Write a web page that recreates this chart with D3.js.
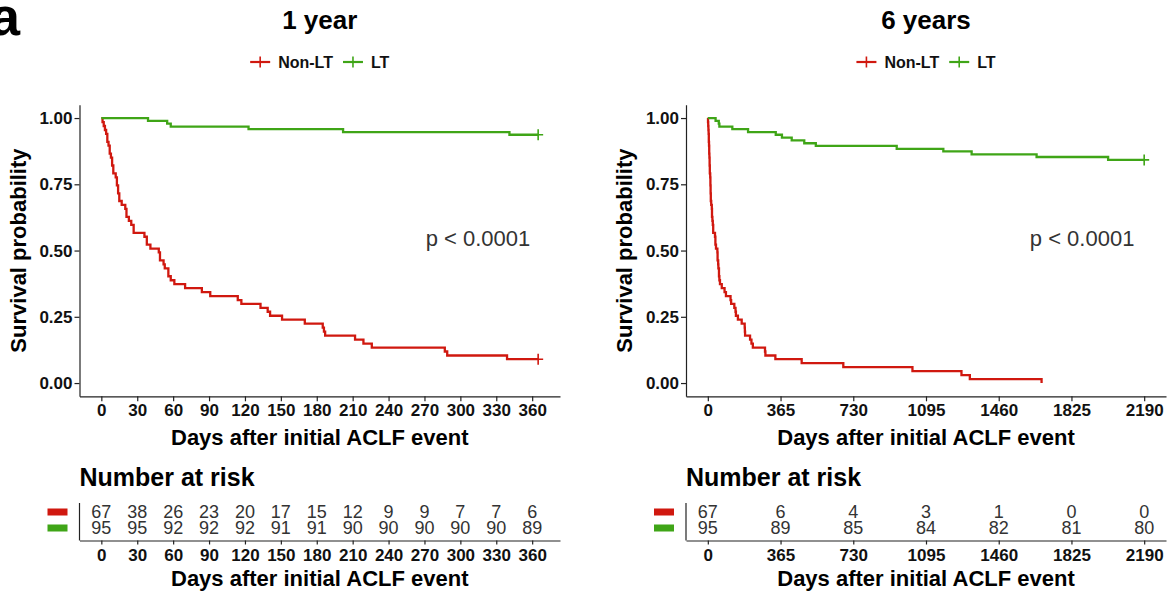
<!DOCTYPE html>
<html>
<head>
<meta charset="utf-8">
<script src="https://cdn.jsdelivr.net/npm/d3@7"></script>
<style>
  body { margin: 0; background: #fff; }
  svg { display: block; }
</style>
</head>
<body>
<svg id="fig" width="1170" height="593"></svg>
<script>
// ---- Kaplan–Meier estimates: day of each death and survival just after it ----
const groupNames = ["Non-LT", "LT"];
const groupColors = ["#D0180F", "#3FA517"];

const nonLtDays = [1, 2, 3, 4, 5, 6, 7, 8, 9, 10, 12, 13, 14, 15, 17, 20, 21, 23, 25, 27,
  36, 38, 41, 48, 49, 52, 53, 56, 58, 61, 70, 84, 91, 114, 117, 133, 139, 141, 151, 170,
  185, 186, 187, 212, 219, 226, 287, 289, 339, 471, 680, 1027, 1273, 1315, 1675];
const nonLtSurv = [0.985, 0.970, 0.955, 0.940, 0.910, 0.896, 0.866, 0.851, 0.821, 0.791,
  0.776, 0.746, 0.716, 0.687, 0.672, 0.657, 0.627, 0.612, 0.597, 0.567,
  0.552, 0.522, 0.507, 0.493, 0.463, 0.448, 0.433, 0.403, 0.388, 0.373,
  0.358, 0.343, 0.328, 0.313, 0.299, 0.284, 0.269, 0.254, 0.239, 0.224,
  0.209, 0.194, 0.179, 0.164, 0.149, 0.134, 0.119, 0.104, 0.090, 0.075,
  0.060, 0.045, 0.030, 0.015, 0];

const ltDays = [39, 55, 58, 123, 202, 341, 372, 421, 484, 542, 948, 1182, 1324, 1650, 2009];
const ltSurv = [0.989, 0.979, 0.968, 0.958, 0.947, 0.937, 0.926, 0.916, 0.905, 0.895,
  0.884, 0.874, 0.863, 0.853, 0.842];

// follow-up end per group and censoring marks (null = no mark)
const endDays1y = [365, 365];
const censorDays1y = [365, 365];
const endDays6y = [1675, 2190];
const censorDays6y = [null, 2190];

// ---- axis breaks and numbers at risk ----
const breaks1y = [0, 30, 60, 90, 120, 150, 180, 210, 240, 270, 300, 330, 360];
const riskNonLt1y = [67, 38, 26, 23, 20, 17, 15, 12, 9, 9, 7, 7, 6];
const riskLt1y = [95, 95, 92, 92, 92, 91, 91, 90, 90, 90, 90, 90, 89];

const breaks6y = [0, 365, 730, 1095, 1460, 1825, 2190];
const riskNonLt6y = [67, 6, 4, 3, 1, 0, 0];
const riskLt6y = [95, 89, 85, 84, 82, 81, 80];

const yBreaks = [0, 0.25, 0.5, 0.75, 1];
const pLabel = "p < 0.0001";
const pCoord1y = [271, 0.546];
const pCoord6y = [1616, 0.546];

const FONT = "'Liberation Sans', Arial, Helvetica, sans-serif";
const svg = d3.select("#fig").style("font-family", FONT);

// panel letter
svg.append("text").attr("x", -10).attr("y", 35)
  .attr("font-size", 54).attr("font-weight", "bold").attr("fill", "#000").text("a");

function stepPoints(days, surv, end) {
  const pts = [[0, 1]];
  let last = 1;
  days.forEach((d, i) => { if (d <= end) { pts.push([d, surv[i]]); last = surv[i]; } });
  if (pts[pts.length - 1][0] < end) pts.push([end, last]);
  return pts;
}

function styleAxis(g, size, weight, color) {
  g.select(".domain").attr("stroke", "#222").attr("stroke-width", 1.2);
  g.selectAll(".tick line").attr("stroke", "#222").attr("stroke-width", 1.2);
  g.selectAll(".tick text").attr("font-size", size).attr("font-weight", weight)
    .attr("fill", color).attr("font-family", FONT);
}

function drawPanel(p) {
  const x = d3.scaleLinear().domain([-0.05 * p.max, 1.05 * p.max]).range([p.left, p.right]);
  const y = d3.scaleLinear().domain([-0.05, 1.05]).range([396.3, 104.8]);
  const cx = (p.left + p.right) / 2;

  // title
  svg.append("text").attr("x", cx).attr("y", 29).attr("text-anchor", "middle")
    .attr("font-size", 26).attr("font-weight", "bold").attr("fill", "#000").text(p.title);

  // legend
  const lg = svg.append("g");
  let off = 0;
  groupNames.forEach((name, i) => {
    lg.append("line").attr("x1", off).attr("x2", off + 20).attr("y1", 0).attr("y2", 0)
      .attr("stroke", groupColors[i]).attr("stroke-width", 2.2);
    lg.append("line").attr("x1", off + 10).attr("x2", off + 10).attr("y1", -5.5).attr("y2", 5.5)
      .attr("stroke", groupColors[i]).attr("stroke-width", 1.6);
    const t = lg.append("text").attr("x", off + 28).attr("y", 0).attr("dy", "0.36em")
      .attr("font-size", 16).attr("font-weight", "bold").attr("fill", "#111").text(name);
    off += 28 + t.node().getComputedTextLength() + (i === 0 ? 10 : 0);
  });
  lg.attr("transform", `translate(${cx - off / 2},62)`);

  // axes
  const gx = svg.append("g").attr("transform", `translate(0,${y(-0.05)})`)
    .call(d3.axisBottom(x).tickValues(p.breaks).tickFormat(d3.format("d"))
      .tickSize(5).tickPadding(3).tickSizeOuter(0));
  styleAxis(gx, 17, "bold", "#111");
  const gy = svg.append("g").attr("transform", `translate(${p.left},0)`)
    .call(d3.axisLeft(y).tickValues(yBreaks).tickFormat(d3.format(".2f"))
      .tickSize(5).tickPadding(2).tickSizeOuter(0));
  styleAxis(gy, 17, "bold", "#111");

  svg.append("text").attr("x", cx).attr("y", 445).attr("text-anchor", "middle")
    .attr("font-size", 22).attr("font-weight", "bold").attr("fill", "#000")
    .text("Days after initial ACLF event");
  svg.append("text").attr("transform", `translate(${p.left - 54},${(y(-0.05) + y(1.05)) / 2}) rotate(-90)`)
    .attr("text-anchor", "middle").attr("font-size", 22).attr("font-weight", "bold")
    .attr("fill", "#000").text("Survival probability");

  // survival curves
  const line = d3.line().x(d => x(d[0])).y(d => y(d[1])).curve(d3.curveStepAfter);
  p.curves.forEach((c, i) => {
    const pts = stepPoints(c.days, c.surv, p.ends[i]);
    svg.append("path").attr("d", line(pts)).attr("fill", "none")
      .attr("stroke", groupColors[i]).attr("stroke-width", 2.3);
    if (p.censors[i] !== null) {
      const cxp = x(p.censors[i]), cyp = y(pts[pts.length - 1][1]);
      svg.append("path")
        .attr("d", `M${cxp - 5},${cyp}H${cxp + 5}M${cxp},${cyp - 5.5}V${cyp + 5.5}`)
        .attr("stroke", groupColors[i]).attr("stroke-width", 1.6).attr("fill", "none");
    }
  });

  // p-value
  svg.append("text").attr("x", x(p.pCoord[0])).attr("y", y(p.pCoord[1])).attr("dy", "0.36em")
    .attr("font-size", 22).attr("fill", "#333").text(pLabel);

  // risk table
  svg.append("text").attr("x", p.left).attr("y", 486).attr("font-size", 25)
    .attr("font-weight", "bold").attr("fill", "#000").text("Number at risk");
  const rowY = [512, 528];
  const tBottom = 540.5, tTop = 503;
  svg.append("line").attr("x1", p.left).attr("x2", p.left).attr("y1", tTop).attr("y2", tBottom)
    .attr("stroke", "#222").attr("stroke-width", 1.2);
  const gr = svg.append("g").attr("transform", `translate(0,${tBottom})`)
    .call(d3.axisBottom(x).tickValues(p.breaks).tickFormat(d3.format("d"))
      .tickSize(4).tickPadding(4).tickSizeOuter(0));
  styleAxis(gr, 17, "bold", "#111");
  [p.riskNon, p.riskLt].forEach((row, i) => {
    svg.append("rect").attr("x", p.left - 32).attr("y", rowY[i] - 3.5).attr("width", 20)
      .attr("height", 7).attr("fill", groupColors[i]);
    svg.append("g").selectAll("text").data(row).join("text")
      .attr("x", (d, j) => x(p.breaks[j])).attr("y", rowY[i]).attr("dy", "0.36em")
      .attr("text-anchor", "middle").attr("font-size", 18).attr("fill", "#333")
      .text(d => d);
  });
  svg.append("text").attr("x", cx).attr("y", 586).attr("text-anchor", "middle")
    .attr("font-size", 22).attr("font-weight", "bold").attr("fill", "#000")
    .text("Days after initial ACLF event");
}

drawPanel({
  title: "1 year", left: 79.5, right: 560, max: 365, breaks: breaks1y,
  curves: [{ days: nonLtDays, surv: nonLtSurv }, { days: ltDays, surv: ltSurv }],
  ends: endDays1y, censors: censorDays1y, pCoord: pCoord1y,
  riskNon: riskNonLt1y, riskLt: riskLt1y
});
drawPanel({
  title: "6 years", left: 686, right: 1166, max: 2190, breaks: breaks6y,
  curves: [{ days: nonLtDays, surv: nonLtSurv }, { days: ltDays, surv: ltSurv }],
  ends: endDays6y, censors: censorDays6y, pCoord: pCoord6y,
  riskNon: riskNonLt6y, riskLt: riskLt6y
});
</script>
</body>
</html>
